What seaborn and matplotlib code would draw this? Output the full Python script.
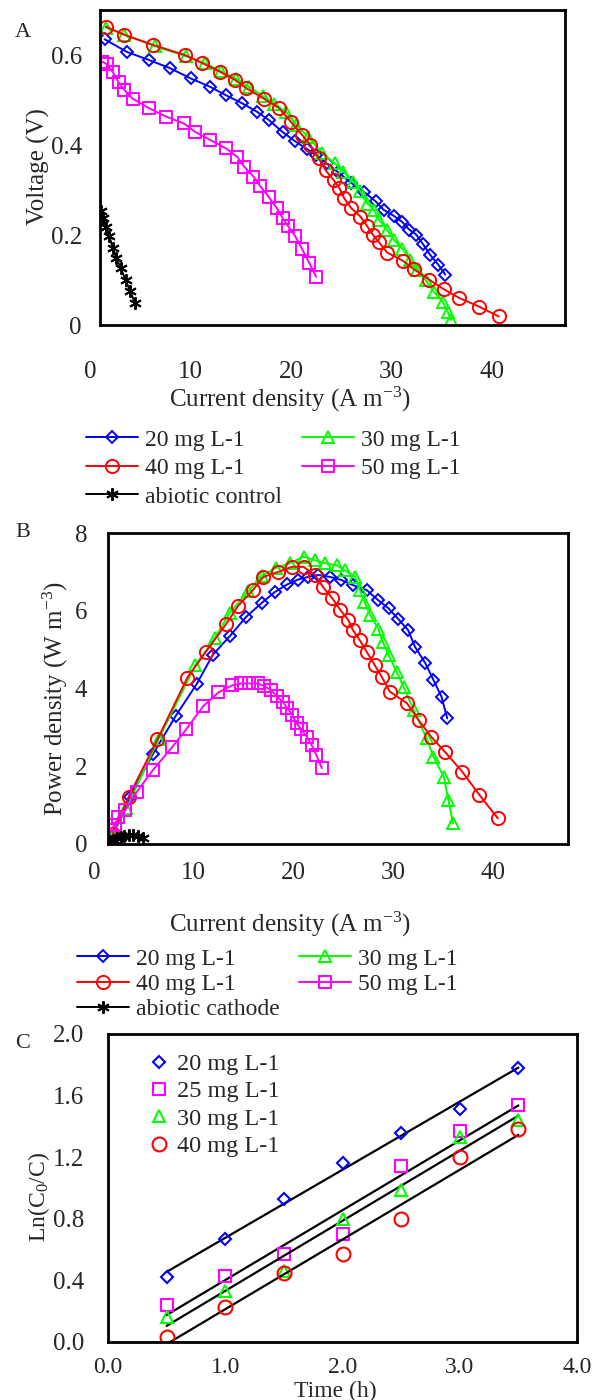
import numpy as np
import pandas as pd
import matplotlib
matplotlib.use("Agg")
import matplotlib.pyplot as plt
import seaborn as sns

# ---- Panel A: polarization curves (current density A m-3, voltage V) ----
a_i_20 = [0.4, 2.3, 4.2, 6.0, 7.8, 9.5, 10.8, 12.2, 13.5, 14.5, 15.7, 16.8, 17.8, 18.6,
          19.5, 20.5, 21.6, 22.7, 23.7, 24.4, 25.3, 26.0, 26.6, 27.2, 27.8, 28.4, 29.1, 29.7]
a_v_20 = [0.635, 0.607, 0.589, 0.571, 0.548, 0.529, 0.511, 0.493, 0.474, 0.456, 0.429, 0.408,
          0.391, 0.378, 0.359, 0.339, 0.316, 0.296, 0.275, 0.256, 0.242, 0.229, 0.212, 0.201,
          0.179, 0.156, 0.134, 0.112]
a_i_30 = [0.5, 2.1, 4.7, 7.4, 9.0, 10.4, 11.7, 12.8, 14.0, 15.0, 16.0, 16.9, 17.9, 19.1, 20.2,
          20.9, 21.8, 22.4, 23.0, 23.6, 24.0, 24.7, 25.3, 26.0, 26.7, 27.3, 28.0, 28.7, 29.5,
          29.9, 30.2]
a_v_30 = [0.661, 0.645, 0.620, 0.597, 0.582, 0.564, 0.547, 0.529, 0.509, 0.492, 0.473, 0.444,
          0.418, 0.382, 0.359, 0.341, 0.318, 0.297, 0.270, 0.255, 0.234, 0.211, 0.189, 0.170,
          0.144, 0.123, 0.100, 0.074, 0.051, 0.030, 0.011]
a_i_40 = [0.5, 2.1, 4.6, 7.3, 8.8, 10.3, 11.6, 12.6, 14.1, 15.4, 16.4, 17.4, 18.1, 18.8, 19.4,
          20.1, 20.6, 21.0, 21.6, 22.4, 23.0, 23.5, 24.0, 24.7, 26.1, 27.0, 28.3, 29.6, 30.9,
          32.6, 34.3]
a_v_40 = [0.663, 0.645, 0.622, 0.600, 0.582, 0.563, 0.545, 0.526, 0.503, 0.482, 0.452, 0.422,
          0.400, 0.371, 0.344, 0.322, 0.304, 0.282, 0.260, 0.241, 0.219, 0.200, 0.184, 0.161,
          0.142, 0.124, 0.101, 0.079, 0.060, 0.041, 0.019]
a_i_50 = [0.2, 0.6, 1.1, 1.6, 2.1, 2.8, 4.2, 5.7, 7.2, 8.2, 9.5, 10.8, 11.8, 12.4, 13.2, 13.8,
          14.5, 15.2, 15.7, 16.2, 16.8, 17.4, 18.0, 18.6]
a_v_50 = [0.585, 0.579, 0.562, 0.539, 0.522, 0.503, 0.482, 0.463, 0.448, 0.429, 0.411, 0.393,
          0.374, 0.352, 0.330, 0.308, 0.285, 0.260, 0.238, 0.219, 0.197, 0.168, 0.138, 0.107]
a_i_ctl = [0.1, 0.3, 0.5, 0.8, 1.1, 1.4, 1.8, 2.2, 2.6, 3.0]
a_v_ctl = [0.253, 0.238, 0.218, 0.198, 0.171, 0.149, 0.126, 0.100, 0.075, 0.049]

# ---- Panel B: power density curves (W m-3) ----
b_i_20 = [0.4, 1.9, 3.9, 5.9, 7.7, 9.1, 10.6, 12.0, 13.4, 14.5, 15.6, 16.5, 17.4, 18.3, 19.3,
          20.3, 21.3, 22.5, 23.5, 24.4, 25.2, 26.1, 26.7, 27.6, 28.3, 29.0, 29.5]
b_p_20 = [0.2, 1.22, 2.31, 3.30, 4.11, 4.86, 5.35, 5.84, 6.21, 6.48, 6.68, 6.80, 6.87, 6.92,
          6.87, 6.79, 6.66, 6.53, 6.27, 6.06, 5.80, 5.50, 5.07, 4.65, 4.22, 3.79, 3.23]
b_i_30 = [0.5, 1.6, 4.4, 7.6, 9.3, 10.6, 12.2, 13.4, 14.6, 15.8, 17.0, 18.0, 18.9, 19.9, 20.6,
          21.5, 21.9, 22.3, 22.8, 23.5, 23.9, 24.4, 25.1, 25.7, 26.6, 27.7, 28.3, 29.2, 29.6, 30.0]
b_p_30 = [0.25, 0.92, 2.70, 4.60, 5.30, 5.95, 6.50, 6.90, 7.10, 7.22, 7.39, 7.30, 7.22, 7.17,
          7.04, 6.87, 6.53, 6.23, 5.89, 5.54, 5.20, 4.86, 4.43, 4.04, 3.44, 2.72, 2.24, 1.73,
          1.13, 0.53]
b_i_40 = [0.4, 1.8, 4.3, 6.9, 8.5, 10.3, 11.3, 12.6, 13.5, 14.8, 16.0, 17.0, 18.0, 18.7, 19.5,
          20.2, 20.9, 21.3, 21.9, 22.5, 23.2, 23.8, 24.5, 26.0, 27.0, 28.1, 29.3, 30.8, 32.3, 33.9]
b_p_40 = [0.25, 1.22, 2.69, 4.28, 4.94, 5.67, 6.12, 6.53, 6.87, 7.00, 7.13, 7.13, 6.92, 6.61,
          6.32, 6.02, 5.76, 5.50, 5.24, 4.94, 4.60, 4.30, 3.92, 3.62, 3.19, 2.76, 2.37, 1.86,
          1.26, 0.66]
b_i_50 = [0.2, 0.6, 0.9, 1.5, 2.5, 3.9, 5.6, 6.8, 8.3, 9.6, 10.8, 11.6, 12.3, 13.0, 13.6, 14.2,
          14.7, 15.2, 15.6, 16.0, 16.4, 16.8, 17.3, 17.7, 18.1, 18.6]
b_p_50 = [0.36, 0.50, 0.70, 0.87, 1.34, 1.90, 2.50, 2.95, 3.55, 3.90, 4.08, 4.13, 4.13, 4.13,
          4.06, 3.95, 3.80, 3.65, 3.50, 3.33, 3.10, 2.95, 2.75, 2.55, 2.30, 1.95]
b_i_ctl = [0.1, 0.3, 0.5, 0.8, 1.1, 1.4, 1.8, 2.2, 2.6, 3.0]
b_p_ctl = [0.03, 0.07, 0.11, 0.16, 0.19, 0.21, 0.23, 0.22, 0.20, 0.15]

# ---- Panel C: Ln(C0/C) vs time ----
time_h = [0.5, 1.0, 1.5, 2.0, 2.5, 3.0, 3.5]
ln_20 = [0.42, 0.67, 0.93, 1.16, 1.36, 1.51, 1.78]
ln_25 = [0.24, 0.43, 0.57, 0.70, 1.14, 1.37, 1.54]
ln_30 = [0.16, 0.33, 0.46, 0.80, 0.99, 1.33, 1.44]
ln_40 = [0.03, 0.23, 0.45, 0.57, 0.80, 1.20, 1.38]

x_ticks_ab = [0, 10, 20, 30, 40]
x_ticks_c = [0.0, 1.0, 2.0, 3.0, 4.0]

sns.set_style("white")
plt.rcParams["font.family"] = ["Liberation Serif", "DejaVu Serif"]
plt.rcParams["mathtext.fontset"] = "custom"
plt.rcParams["mathtext.rm"] = "Liberation Serif"
plt.rcParams["mathtext.default"] = "regular"

W, H = 601, 1400
fig = plt.figure(figsize=(W / 100, H / 100), dpi=100)
fig.patch.set_facecolor("white")


def fx(px):
    return px / W


def fy(py):
    return 1 - py / H


BLUE, GREEN, RED, MAG, BLK = "#0000FF", "#00FF00", "#FF0000", "#FF00FF", "#000000"
STAR = (6, 2, 0)
TICK_FS = 18
LAB_FS = 18
LEG_FS = 17


def style_box(ax):
    for s in ax.spines.values():
        s.set_visible(True)
        s.set_linewidth(2)
        s.set_color("black")
    ax.tick_params(direction="in", length=5, width=1, color="#555555",
                   labelsize=TICK_FS, top=False, right=False)


def curve(ax, x, y, color, marker, ms, label):
    sns.lineplot(x=x, y=y, ax=ax, color=color, marker=marker, markersize=ms,
                 markerfacecolor="none", markeredgecolor=color, markeredgewidth=1.4,
                 linewidth=1.4, estimator=None, errorbar=None, sort=False,
                 legend=False, label=label)
    return ax.lines[-1]


def label_axis(left, right, y_spine, xlabel, lab_x, lab_base):
    # separate row of x tick labels, placed as in the original figure
    lab = fig.add_axes([fx(left), fy(y_spine), (right - left) / W, 0.0001])
    lab.set_xlim(0, 40)
    lab.set_xticks(x_ticks_ab)
    lab.set_xticklabels([str(t) for t in x_ticks_ab])
    lab.set_yticks([])
    for s in lab.spines.values():
        s.set_visible(False)
    lab.patch.set_alpha(0)
    lab.tick_params(axis="x", length=0, pad=0, labelsize=TICK_FS)
    lab.set_xlabel(xlabel, fontsize=LAB_FS)
    lab.xaxis.label.set_va("baseline")
    lab.xaxis.set_label_coords(fx(lab_x), fy(lab_base), transform=fig.transFigure)
    return lab


# ================= Panel A =================
axA = fig.add_axes([fx(100), fy(325), 465 / W, 315 / H])
hA = [
    curve(axA, a_i_20, a_v_20, BLUE, "D", 6, "20 mg L-1"),
    curve(axA, a_i_30, a_v_30, GREEN, "^", 9, "30 mg L-1"),
    curve(axA, a_i_40, a_v_40, RED, "o", 9.5, "40 mg L-1"),
    curve(axA, a_i_50, a_v_50, MAG, "s", 9, "50 mg L-1"),
    curve(axA, a_i_ctl, a_v_ctl, BLK, STAR, 9, "abiotic control"),
]
axA.set_xlim(0, 40)
axA.set_ylim(0, 0.7)
axA.set_xticks(x_ticks_ab)
axA.set_yticks([0, 0.2, 0.4, 0.6])
axA.set_yticklabels(["0", "0.2", "0.4", "0.6"])
style_box(axA)
axA.tick_params(axis="x", labelbottom=False)
axA.tick_params(axis="y", pad=13)
axA.set_xlabel("")
axA.set_ylabel("Voltage (V)", fontsize=LAB_FS)
axA.yaxis.label.set_va("baseline")
axA.yaxis.set_label_coords(fx(45), fy(167), transform=fig.transFigure)
label_axis(90, 492, 361, r"Current density (A m$^{-3}$)", 290, 407)

order = [0, 2, 4, 1, 3]
fig.legend([hA[k] for k in order], [hA[k].get_label() for k in order],
           loc="upper left", bbox_to_anchor=(fx(86), fy(429)), bbox_transform=fig.transFigure,
           ncol=2, frameon=False, borderpad=0, borderaxespad=0, handlelength=2.2,
           handletextpad=0.3, columnspacing=0.85, labelspacing=0.3, fontsize=LEG_FS)
fig.text(fx(15), fy(37), "A", fontsize=16, ha="left", va="baseline")

# ================= Panel B =================
axB = fig.add_axes([fx(108), fy(844), 460 / W, 311 / H])
hB = [
    curve(axB, b_i_20, b_p_20, BLUE, "D", 6, "20 mg L-1"),
    curve(axB, b_i_30, b_p_30, GREEN, "^", 9, "30 mg L-1"),
    curve(axB, b_i_40, b_p_40, RED, "o", 9.5, "40 mg L-1"),
    curve(axB, b_i_50, b_p_50, MAG, "s", 9, "50 mg L-1"),
    curve(axB, b_i_ctl, b_p_ctl, BLK, STAR, 9, "abiotic cathode"),
]
axB.set_xlim(0, 40)
axB.set_ylim(0, 8)
axB.set_xticks(x_ticks_ab)
axB.set_yticks([0, 2, 4, 6, 8])
style_box(axB)
axB.tick_params(axis="x", labelbottom=False)
axB.tick_params(axis="y", pad=15)
axB.set_xlabel("")
axB.set_ylabel(r"Power density (W m$^{-3}$)", fontsize=LAB_FS)
axB.yaxis.label.set_va("baseline")
axB.yaxis.set_label_coords(fx(63), fy(699), transform=fig.transFigure)
label_axis(94, 493, 862, r"Current density (A m$^{-3}$)", 290, 932)

fig.legend([hB[k] for k in order], [hB[k].get_label() for k in order],
           loc="upper left", bbox_to_anchor=(fx(77), fy(948)), bbox_transform=fig.transFigure,
           ncol=2, frameon=False, borderpad=0, borderaxespad=0, handlelength=2.2,
           handletextpad=0.3, columnspacing=0.8, labelspacing=0.16, fontsize=LEG_FS)
fig.text(fx(15), fy(537), "B", fontsize=16, ha="left", va="baseline")

# ================= Panel C =================
axC = fig.add_axes([fx(108), fy(1342), 469 / W, 308 / H])
series_c = [
    (ln_20, BLUE, "D", 6.5, "20 mg L-1"),
    (ln_25, MAG, "s", 9, "25 mg L-1"),
    (ln_30, GREEN, "^", 9, "30 mg L-1"),
    (ln_40, RED, "o", 10, "40 mg L-1"),
]
hC = []
for vals, col, mk, ms, lbl in series_c:
    sns.regplot(x=time_h, y=vals, ax=axC, scatter=False, ci=None, truncate=True,
                color="black", line_kws={"linewidth": 1.6})
    sns.lineplot(x=time_h, y=vals, ax=axC, linestyle="none", marker=mk, markersize=ms,
                 markerfacecolor="none", markeredgecolor=col, markeredgewidth=1.5,
                 estimator=None, errorbar=None, legend=False, label=lbl)
    hC.append(axC.lines[-1])
axC.set_xlim(0, 4)
axC.set_ylim(0, 2.0)
axC.set_xticks(x_ticks_c)
axC.set_xticklabels([f"{t:.1f}" for t in x_ticks_c])
axC.set_yticks([0.0, 0.4, 0.8, 1.2, 1.6, 2.0])
axC.set_yticklabels([f"{t:.1f}" for t in [0.0, 0.4, 0.8, 1.2, 1.6, 2.0]])
style_box(axC)
axC.tick_params(axis="x", pad=11, labelsize=17)
axC.tick_params(axis="y", pad=17, length=0)
axC.set_xlabel("Time (h)", fontsize=17)
axC.xaxis.label.set_va("baseline")
axC.xaxis.set_label_coords(fx(335), fy(1397), transform=fig.transFigure)
axC.set_ylabel(r"Ln(C$_0$/C)", fontsize=17)
axC.yaxis.label.set_va("baseline")
axC.yaxis.set_label_coords(fx(45), fy(1197), transform=fig.transFigure)
axC.legend(hC, [h.get_label() for h in hC], loc="upper left",
           bbox_to_anchor=(fx(149), fy(1053)), bbox_transform=fig.transFigure,
           frameon=False, borderpad=0, borderaxespad=0, handlelength=0.8,
           handletextpad=0.35, labelspacing=0.22, fontsize=17.5)
fig.text(fx(15), fy(1048), "C", fontsize=16, ha="left", va="baseline")

fig.savefig("out.png", dpi=100)
